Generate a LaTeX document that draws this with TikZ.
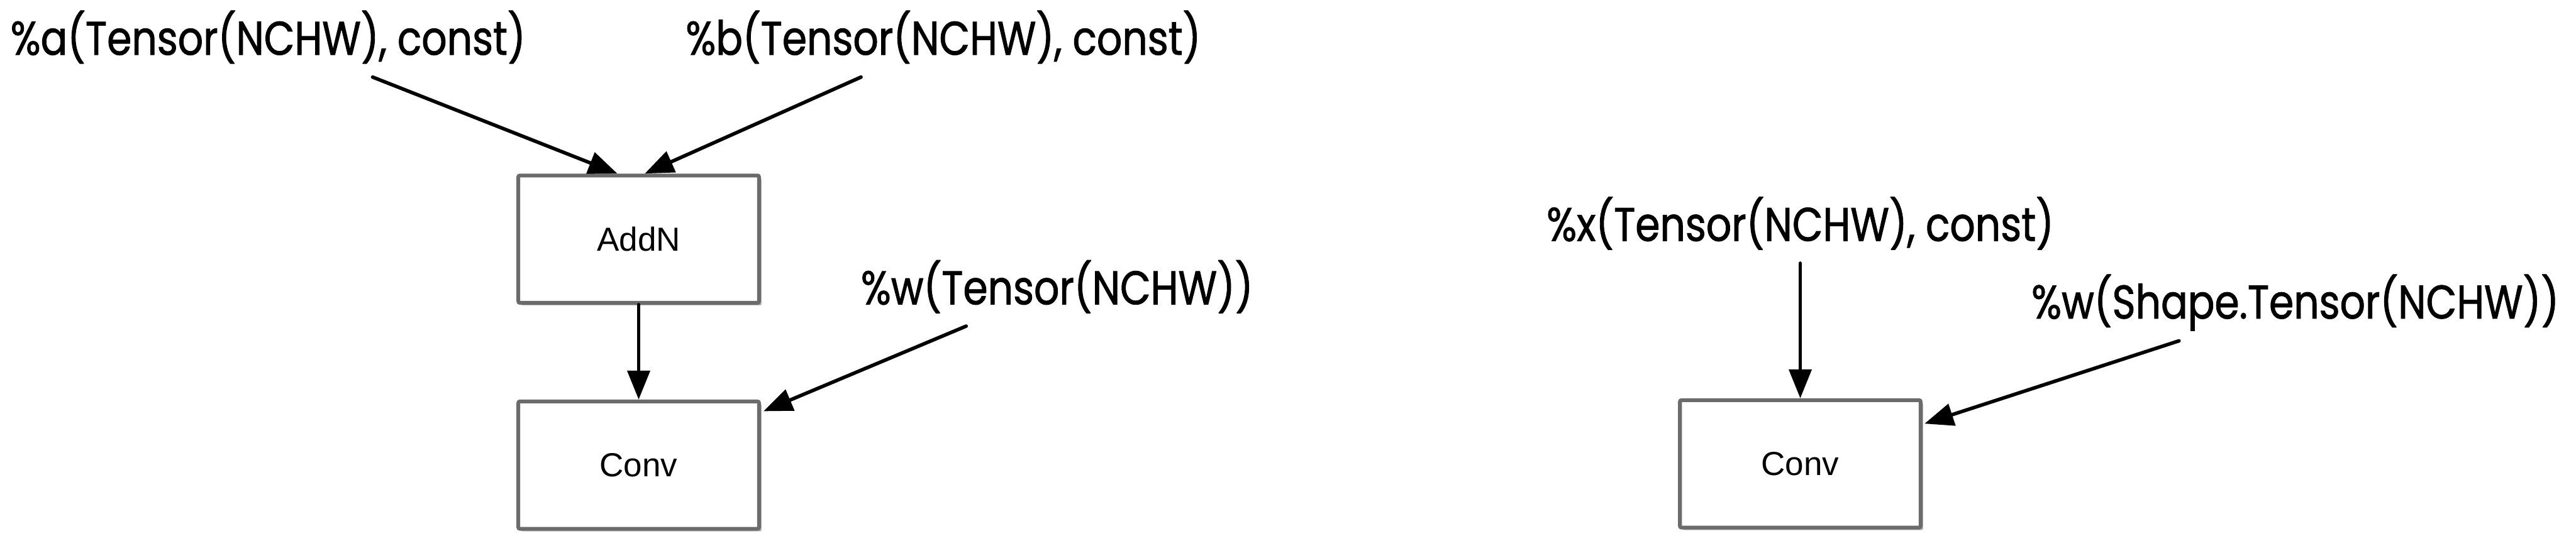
\documentclass[tikz,border=0pt]{standalone}
\usepackage{fontspec}
\usetikzlibrary{arrows.meta, positioning, shadows}
\newfontfamily\labelfont[FakeStretch=0.84, FakeBold=1.2]{Poppins}
\newfontfamily\boxfont{Liberation Sans}
\definecolor{boxgray}{RGB}{107,107,107}

\begin{document}
\begin{tikzpicture}[
    opbox/.style={
        draw=boxgray,
        line width=0.075cm,
        rectangle,
        rounded corners=0.03cm,
        minimum width=4.74cm,
        minimum height=2.51cm,
        fill=white,
        drop shadow={shadow xshift=0.05cm, shadow yshift=-0.05cm, fill=black, opacity=0.3},
        font=\boxfont\fontsize{18.7}{22}\selectfont
    },
    tensor/.style={
        anchor=base,
        inner sep=0pt,
        font=\labelfont\fontsize{26.5}{30}\selectfont
    },
    flow/.style={
        -{Triangle[length=0.57cm, width=0.44cm]},
        line width=0.07cm,
        line cap=round
    },
    node distance=1.87cm
]
\useasboundingbox (0,0) rectangle (50.74,10.66);

% Left graph
\node[opbox] (addn) at (12.58,5.945) {AddN};
\node[opbox, below=of addn] (convL) {Conv};

\node[tensor] (inA) at (5.28,9.58) {\%a(Tensor(NCHW), const)};
\node[tensor] (inB) at (18.58,9.58) {\%b(Tensor(NCHW), const)};
\node[tensor] (inW) at (20.82,4.66) {\%w(Tensor(NCHW))};

\draw[flow] ([shift={(2.06,-0.44)}]inA.base) -- ([xshift=-0.42cm]addn.north);
\draw[flow] ([shift={(-1.62,-0.44)}]inB.base) -- ([xshift=0.12cm]addn.north);
\draw[flow] (addn.south) -- (convL.north);
\draw[flow] ([shift={(-1.79,-0.43)}]inW.base) -- ([shift={(0.05,-0.23)}]convL.north east);

% Right graph
\node[opbox] (convR) at (35.46,1.515) {Conv};

\node[tensor] (inX) at (35.46,5.91) {\%x(Tensor(NCHW), const)};
\node[tensor] (inWs) at (45.21,4.38) {\%w(Shape.Tensor(NCHW))};

\draw[flow] ([yshift=-0.44cm]inX.base) -- (convR.north);
\draw[flow] ([shift={(-2.29,-0.44)}]inWs.base) -- ([shift={(0.04,-0.50)}]convR.north east);

\end{tikzpicture}
\end{document}
